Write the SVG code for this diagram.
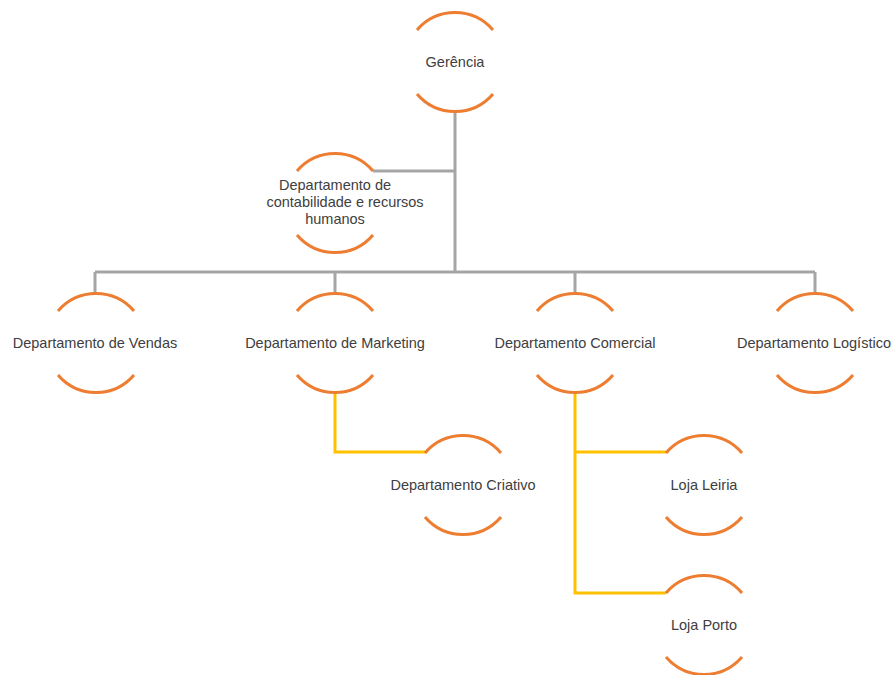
<svg xmlns="http://www.w3.org/2000/svg" xmlns:xlink="http://www.w3.org/1999/xlink" width="893" height="675" viewBox="0 0 893 675">
<style>
.arc{fill:none;stroke:#ED7D31;stroke-width:3}
.g{fill:none;stroke:#A5A5A5;stroke-width:3}
.y{fill:none;stroke:#FFC000;stroke-width:3}
text{font-family:"Liberation Sans",Arial,sans-serif;font-size:14.5px;fill:#404040;text-anchor:middle}
</style>
<defs>
<g id="ring">
<path class="arc" d="M-38 -32 A50 50 0 0 1 38 -32"/>
<path class="arc" d="M-38 32 A50 50 0 0 0 38 32"/>
</g>
</defs>
<rect width="893" height="675" fill="#FFFFFF"/>
<g id="connectors">
<path class="g" d="M455 112 V272 M373 171 H455 M95 272 H815 M95 272 V293 M335 272 V293 M575 272 V293 M815 272 V293"/>
<path class="y" d="M335 393 V452 H425"/>
<path class="y" d="M575 393 V593 H666 M575 452 H666"/>
</g>
<g id="gerencia"><use xlink:href="#ring" x="455" y="62"/><text x="455" y="67">Gerência</text></g>
<g id="contabilidade"><use xlink:href="#ring" x="335" y="203"/>
<text x="335" y="190">Departamento de</text>
<text x="345" y="207">contabilidade e recursos</text>
<text x="335" y="224">humanos</text></g>
<g id="vendas"><use xlink:href="#ring" x="96" y="343"/><text x="95" y="348">Departamento de Vendas</text></g>
<g id="marketing"><use xlink:href="#ring" x="335" y="343"/><text x="335" y="348">Departamento de Marketing</text></g>
<g id="comercial"><use xlink:href="#ring" x="575" y="343"/><text x="575" y="348">Departamento Comercial</text></g>
<g id="logistico"><use xlink:href="#ring" x="815" y="343"/><text x="814" y="348">Departamento Logístico</text></g>
<g id="criativo"><use xlink:href="#ring" x="463" y="485"/><text x="463" y="490">Departamento Criativo</text></g>
<g id="leiria"><use xlink:href="#ring" x="704" y="485"/><text x="704" y="490">Loja Leiria</text></g>
<g id="porto"><use xlink:href="#ring" x="704" y="625"/><text x="704" y="630">Loja Porto</text></g>
</svg>
